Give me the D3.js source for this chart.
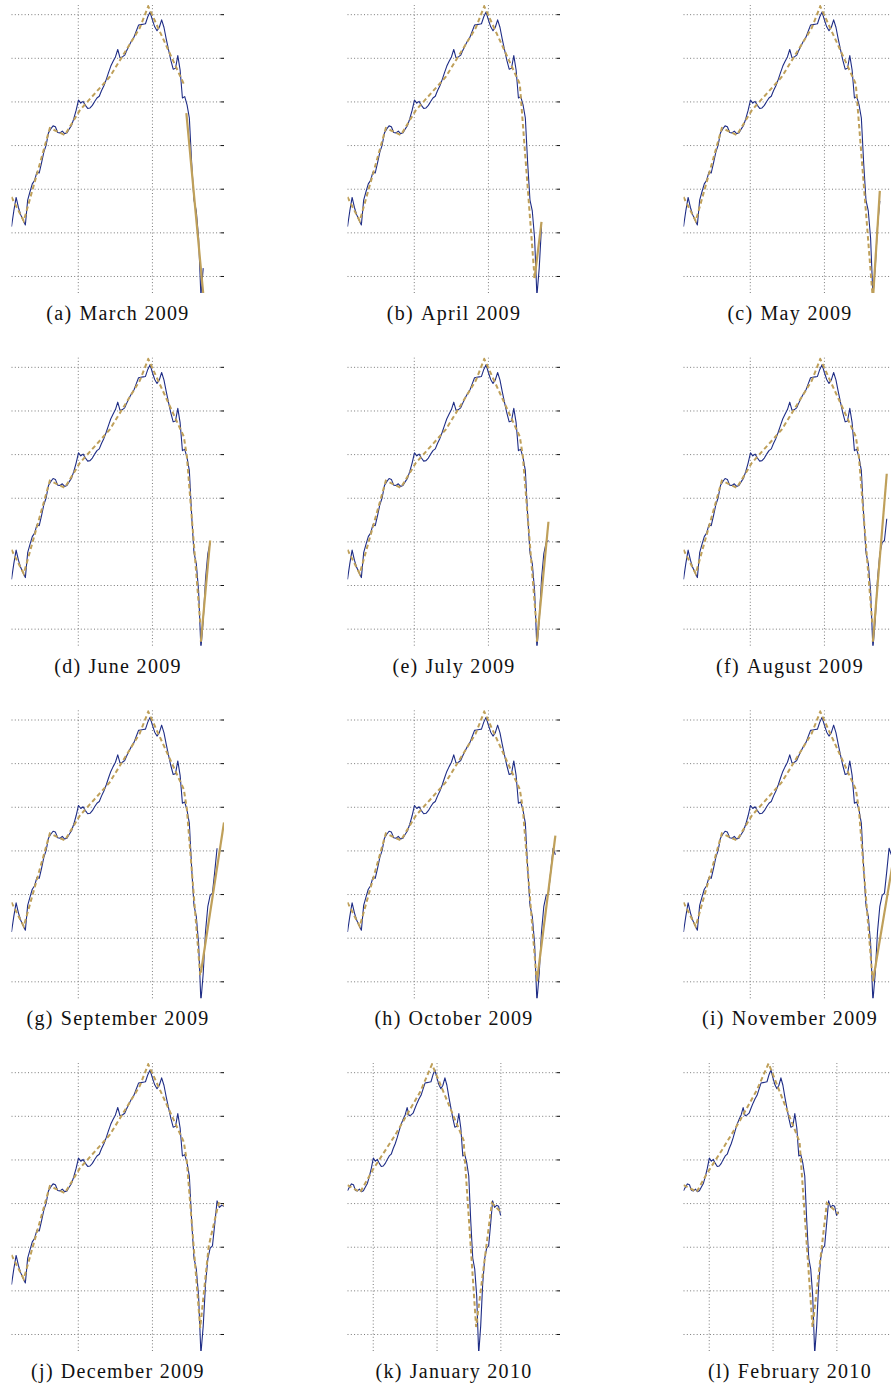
<!DOCTYPE html>
<html>
<head>
<meta charset="utf-8">
<script src="https://cdn.jsdelivr.net/npm/d3@7"></script>
<style>
body { margin: 0; background: #fff; }
svg { display: block; }
</style>
</head>
<body>
<svg id="fig" width="891" height="1387"></svg>
<script>
// monthly index, t = 0 is the first month of panels (a)-(j), t = 92 is December 2009
const seriesValues = [
  -1.87, -1.51, -1.20, -1.43, -1.60, -1.72, -1.83, -1.26, -1.07, -0.89,
  -0.81, -0.62, -0.64, -0.41, -0.16, 0.00, 0.28, 0.37, 0.44, 0.42,
  0.29, 0.28, 0.32, 0.26, 0.28, 0.37, 0.45, 0.61, 0.80, 1.03,
  0.96, 1.00, 0.91, 0.84, 0.85, 0.91, 1.00, 1.08, 1.12, 1.25,
  1.36, 1.50, 1.66, 1.81, 1.92, 2.02, 2.19, 2.00, 2.02, 2.06,
  2.18, 2.29, 2.39, 2.47, 2.61, 2.75, 2.76, 2.77, 2.78, 2.94,
  3.05, 2.87, 2.71, 2.62, 2.70, 2.87, 2.70, 2.43, 2.18, 1.94,
  1.74, 1.76, 2.05, 1.72, 1.08, 1.11, 0.92, 0.62, -0.41, -1.26,
  -1.51, -2.13, -3.46, -2.82, -1.86, -1.28, -1.03, -0.98, -0.48, 0.05,
  -0.10, -0.05, -0.07, -0.28, -0.20
];

const panelLabels = ["(a)", "(b)", "(c)", "(d)", "(e)", "(f)", "(g)", "(h)", "(i)", "(j)", "(k)", "(l)"];
const panelTitles = [
  "March 2009", "April 2009", "May 2009", "June 2009", "July 2009", "August 2009",
  "September 2009", "October 2009", "November 2009", "December 2009", "January 2010", "February 2010"
];
// first and last observation (t) shown in each vintage
const firstIndex = [0, 0, 0, 0, 0, 0, 0, 0, 0, 0, 16, 16];
const lastIndex = [83, 84, 85, 86, 87, 88, 89, 90, 91, 92, 93, 94];

const yTicks = [-3, -2, -1, 0, 1, 2, 3];
const yDomain = [-3.39, 3.21];
const xDomainEarly = [0, 92];
const xDomainLate = [16, 122.9];
const xGrid = [28.7, 60.8, 92.9];

// trend knots [t, value]
const trendHistory = [
  [0, -1.19], [5.3, -1.74], [16.6, 0.39], [23.1, 0.23], [29.6, 0.80],
  [42.5, 1.56], [55.5, 2.68], [59.2, 3.18], [74.6, 1.40]
];
const trendTail = [
  [],
  [[81.0, -3.05]],
  [[82.0, -3.55]],
  [[75.9, 0.96], [81.7, -2.86]],
  [[75.9, 0.96], [81.7, -2.86]],
  [[75.9, 0.96], [81.7, -2.86]],
  [[75.9, 0.96], [81.7, -2.86]],
  [[75.9, 0.96], [81.7, -2.86]],
  [[75.9, 0.96], [81.7, -2.86]],
  [[75.9, 0.96], [81.7, -2.86], [85.4, -0.98], [89.7, 0.0], [92, -0.05]]
];
const trendLateK = [
  [16, 0.41], [22.4, 0.25], [29.1, 0.79], [40.0, 1.56], [52.6, 2.55],
  [58.5, 3.18], [74.4, 1.44], [80.7, -2.84], [88.6, 0.0], [93, -0.20]
];
const trendLateL = [
  [16, 0.41], [22.7, 0.26], [27.8, 0.68], [35.3, 1.21], [44.5, 1.90],
  [52.9, 2.59], [58.8, 3.20], [74.4, 1.40], [80.9, -2.84], [88.1, 0.0], [94, -0.25]
];
// latest trend segment
const trendSolid = [
  [[75.7, 0.73], [83, -3.40]],
  [[81.0, -3.05], [84, -1.76]],
  [[82.0, -3.55], [85, -1.05]],
  [[82.0, -3.30], [86, -0.98]],
  [[82.0, -3.30], [87, -0.55]],
  [[82.0, -3.30], [88, 0.55]],
  [[82.0, -2.80], [92, 0.64]],
  [[82.0, -3.00], [90, 0.34]],
  [[82.0, -3.00], [91, -0.16]],
  [], [], []
];

const colStep = 336, rowStep = 352.67;
const box = { left: 11.5, right: 224, top: 5, bottom: 293 };
const blue = "#1f2d86", gold = "#bfa05a", gridColor = "#7a7a7a";

const svg = d3.select("#fig");

panelTitles.forEach((title, i) => {
  const col = i % 3, row = Math.floor(i / 3);
  const late = i >= 10;
  const g = svg.append("g").attr("transform", `translate(${col * colStep},${row * rowStep})`);

  const x = d3.scaleLinear().domain(late ? xDomainLate : xDomainEarly).range([box.left, box.right]);
  const y = d3.scaleLinear().domain(yDomain).range([box.bottom, box.top]);
  const xTicks = xGrid.filter(t => t >= x.domain()[0] && t <= x.domain()[1]);

  g.append("clipPath").attr("id", "clip" + i)
    .append("rect")
    .attr("x", box.left).attr("y", box.top)
    .attr("width", box.right - box.left).attr("height", box.bottom - box.top);

  // dotted grid
  const yAxisGrid = d3.axisLeft(y).tickValues(yTicks).tickSize(-(box.right - box.left)).tickFormat("");
  const gy = g.append("g").attr("transform", `translate(${box.left},0)`).call(yAxisGrid);
  const xAxisGrid = d3.axisBottom(x).tickValues(xTicks).tickSize(-(box.bottom - box.top)).tickFormat("");
  const gx = g.append("g").attr("transform", `translate(0,${box.bottom})`).call(xAxisGrid);
  [gx, gy].forEach(a => {
    a.select(".domain").remove();
    a.selectAll("line").attr("stroke", gridColor).attr("stroke-width", 1).attr("stroke-dasharray", "1 2.3");
  });

  // short inward ticks on the right
  const yTickAxis = d3.axisLeft(y).tickValues(yTicks).tickSize(3.5).tickFormat("");
  const gt = g.append("g").attr("transform", `translate(${box.right},0)`).call(yTickAxis);
  gt.select(".domain").remove();
  gt.selectAll("line").attr("stroke", "#111").attr("stroke-width", 1);

  const plot = g.append("g").attr("clip-path", `url(#clip${i})`);
  const line = d3.line().x(d => x(d[0])).y(d => y(d[1]));

  const pts = seriesValues.map((v, t) => [t, v]).filter(d => d[0] >= firstIndex[i] && d[0] <= lastIndex[i]);
  plot.append("path").datum(pts)
    .attr("fill", "none").attr("stroke", blue).attr("stroke-width", 1.1)
    .attr("stroke-linejoin", "round").attr("d", line);

  let dashed;
  if (i === 10) dashed = trendLateK;
  else if (i === 11) dashed = trendLateL;
  else dashed = trendHistory.concat(trendTail[i]);
  plot.append("path").datum(dashed)
    .attr("fill", "none").attr("stroke", gold).attr("stroke-width", 2)
    .attr("stroke-dasharray", "4.5 3").attr("d", line);

  if (trendSolid[i].length) {
    plot.append("path").datum(trendSolid[i])
      .attr("fill", "none").attr("stroke", gold).attr("stroke-width", 2.2)
      .attr("d", line);
  }

  const cap = g.append("text")
    .attr("x", 118).attr("y", 320)
    .attr("text-anchor", "middle")
    .attr("font-family", "'Liberation Serif', 'Times New Roman', serif")
    .attr("font-size", 20).attr("letter-spacing", 1.3)
    .attr("fill", "#111");
  cap.append("tspan").text(panelLabels[i]);
  cap.append("tspan").attr("dx", 7).text(title);
});
</script>
</body>
</html>
